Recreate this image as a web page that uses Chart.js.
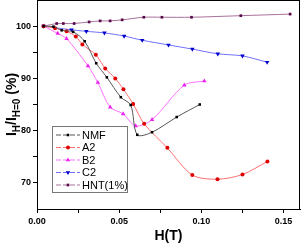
<!DOCTYPE html>
<html>
<head>
<meta charset="utf-8">
<script src="https://cdn.jsdelivr.net/npm/chart.js@4"></script>
<style>
  html, body { margin: 0; padding: 0; background: #fff; }
  #chart { display: block; }
</style>
</head>
<body>
<canvas id="chart" width="301" height="243"></canvas>
<script>
// values, H in tesla, I in %
let nmfH = [0.004, 0.010, 0.015, 0.022, 0.029, 0.036, 0.0425, 0.051, 0.057, 0.061, 0.070, 0.085, 0.099];
let nmfI = [100, 99.9, 99.2, 98.9, 97.1, 92.9, 90.2, 86.4, 84.9, 79.2, 79.7, 82.6, 85.0];

let a2H = [0.004, 0.011, 0.018, 0.0236, 0.0276, 0.0358, 0.0415, 0.0476, 0.0526, 0.0585, 0.0652, 0.0793, 0.0945, 0.1098, 0.125, 0.1402];
let a2I = [100, 99.6, 99.0, 98.0, 96.5, 94.5, 91.9, 90.0, 87.9, 85.1, 81.3, 76.7, 71.5, 70.7, 71.6, 74.1];

let b2H = [0.004, 0.0126, 0.018, 0.031, 0.037, 0.0445, 0.0524, 0.060, 0.070, 0.0896, 0.1018];
let b2I = [100, 98.6, 97.6, 92.4, 89.2, 84.5, 83.2, 80.9, 82.1, 88.7, 89.5];

let c2H = [0.004, 0.021, 0.030, 0.041, 0.053, 0.064, 0.080, 0.0945, 0.110, 0.125, 0.140];
let c2I = [100, 99.3, 99.0, 98.7, 98.1, 97.3, 96.4, 95.6, 94.7, 94.3, 93.1];

let hntH = [0.004, 0.012, 0.016, 0.0226, 0.0317, 0.0384, 0.0445, 0.0518, 0.065, 0.076, 0.094, 0.124, 0.154];
let hntI = [100, 100.5, 100.5, 100.5, 100.8, 101.0, 101.0, 101.2, 101.7, 101.7, 101.7, 102.0, 102.3];

let seriesNames = ['NMF', 'A2', 'B2', 'C2', 'HNT(1%)'];
let xTicks = [0, 0.05, 0.10, 0.15];
let yTicks = [70, 80, 90, 100];

function pts(xs, ys) {
    return xs.map((x, i) => ({ x: x, y: ys[i] }));
}

function serie(label, xs, ys, line, dot, style, rot, r) {
    return {
        label: label,
        data: pts(xs, ys),
        borderColor: line,
        borderWidth: 1,
        backgroundColor: dot,
        pointBackgroundColor: dot,
        pointBorderColor: dot,
        pointBorderWidth: 0,
        pointStyle: style,
        rotation: rot,
        pointRadius: r,
        tension: 0.3
    };
}

const fontName = '"Liberation Sans", Arial, sans-serif';

function isMajor(v, list) {
    return list.some(t => Math.abs(t - v) < 1e-6);
}

// no extra room for edge labels, the plot box is fixed
function noPad(s) {
    s.paddingTop = 0;
    s.paddingBottom = 0;
    s.paddingLeft = 0;
    s.paddingRight = 0;
}

// frame round the plot, axis titles and the legend box inside the plot
const extras = {
    id: 'extras',
    afterDraw(chart) {
        const c = chart.ctx;
        const a = chart.chartArea;
        c.save();
        c.strokeStyle = '#000';
        c.lineWidth = 1;
        c.strokeRect(a.left + 0.5, a.top + 0.5, a.right - a.left - 1, a.bottom - a.top);

        // x title
        c.fillStyle = '#000';
        c.font = 'bold 14px ' + fontName;
        c.textAlign = 'center';
        c.textBaseline = 'middle';
        c.fillText('H(T)', (a.left + a.right) / 2, 236);

        // y title with subscripts, rotated
        c.translate(16, (a.top + a.bottom) / 2);
        c.rotate(-Math.PI / 2);
        const parts = [
            ['I', 14, 0], ['H', 10, 4], ['/I', 14, 0], ['H=0', 10, 4], [' (%)', 14, 0]
        ];
        let w = 0;
        parts.forEach(p => { c.font = 'bold ' + p[1] + 'px ' + fontName; w += c.measureText(p[0]).width; });
        let x = -w / 2;
        c.textAlign = 'left';
        c.textBaseline = 'alphabetic';
        parts.forEach(p => {
            c.font = 'bold ' + p[1] + 'px ' + fontName;
            c.fillText(p[0], x, p[2]);
            x += c.measureText(p[0]).width;
        });
        c.restore();

        // legend
        c.save();
        const bx = 52.5, by = 126.5, bw = 75, bh = 66;
        c.fillStyle = '#fff';
        c.fillRect(bx, by, bw, bh);
        c.strokeStyle = '#777';
        c.lineWidth = 1;
        c.strokeRect(bx, by, bw, bh);
        chart.data.datasets.forEach((ds, i) => {
            const cy = 135 + i * 12.5;
            c.strokeStyle = ds.borderColor;
            c.setLineDash([5, 2]);
            c.beginPath();
            c.moveTo(56, cy);
            c.lineTo(80, cy);
            c.stroke();
            c.setLineDash([]);
            c.fillStyle = ds.pointBackgroundColor;
            c.strokeStyle = ds.pointBackgroundColor;
            Chart.helpers.drawPoint(c, {
                pointStyle: ds.pointStyle, rotation: ds.rotation, radius: ds.pointRadius, borderWidth: 0
            }, 68, cy);
            c.fillStyle = '#000';
            c.font = '11px ' + fontName;
            c.textAlign = 'left';
            c.textBaseline = 'middle';
            c.fillText(ds.label, 82, cy + 0.5);
        });
        c.restore();
    }
};

let ctx = document.querySelector('#chart');

new Chart(ctx, {
    type: 'line',
    data: {
        datasets: [
            serie(seriesNames[0], nmfH, nmfI, '#555555', '#000000', 'rect', 0, 1.8),
            serie(seriesNames[1], a2H, a2I, '#ff6f6f', '#e00000', 'circle', 0, 2),
            serie(seriesNames[2], b2H, b2I, '#ff70ff', '#ee22ee', 'triangle', 0, 2.6),
            serie(seriesNames[3], c2H, c2I, '#6f6fff', '#0000cc', 'triangle', 180, 2.6),
            serie(seriesNames[4], hntH, hntI, '#a8709a', '#5a0a4a', 'rect', 0, 1.9)
        ]
    },
    options: {
        responsive: false,
        animation: false,
        events: [],
        layout: { autoPadding: false, padding: { top: 0, right: 1, left: 0, bottom: 0 } },
        plugins: {
            legend: { display: false },
            tooltip: { enabled: false }
        },
        scales: {
            x: {
                type: 'linear',
                min: 0,
                max: 0.16,
                afterFit: s => { s.height = 34; noPad(s); },
                afterBuildTicks: s => {
                    s.ticks = [0, 0.025, 0.05, 0.075, 0.10, 0.125, 0.15].map(v => ({ value: v }));
                },
                grid: { drawOnChartArea: false, drawTicks: true, tickLength: 4, color: '#000' },
                border: { display: true, color: '#000' },
                ticks: {
                    color: '#000',
                    padding: 3,
                    maxRotation: 0,
                    autoSkip: false,
                    font: { family: fontName, size: 9, weight: 'bold' },
                    callback: v => isMajor(v, xTicks) ? v.toFixed(2) : ''
                }
            },
            y: {
                min: 65,
                max: 105,
                afterFit: s => { s.width = 37; noPad(s); },
                afterBuildTicks: s => {
                    s.ticks = [70, 75, 80, 85, 90, 95, 100].map(v => ({ value: v }));
                },
                grid: { drawOnChartArea: false, drawTicks: true, tickLength: 4, color: '#000' },
                border: { display: true, color: '#000' },
                ticks: {
                    color: '#000',
                    padding: 2,
                    autoSkip: false,
                    font: { family: fontName, size: 9, weight: 'bold' },
                    callback: v => isMajor(v, yTicks) ? String(v) : ''
                }
            }
        }
    },
    plugins: [extras]
});
</script>
</body>
</html>
